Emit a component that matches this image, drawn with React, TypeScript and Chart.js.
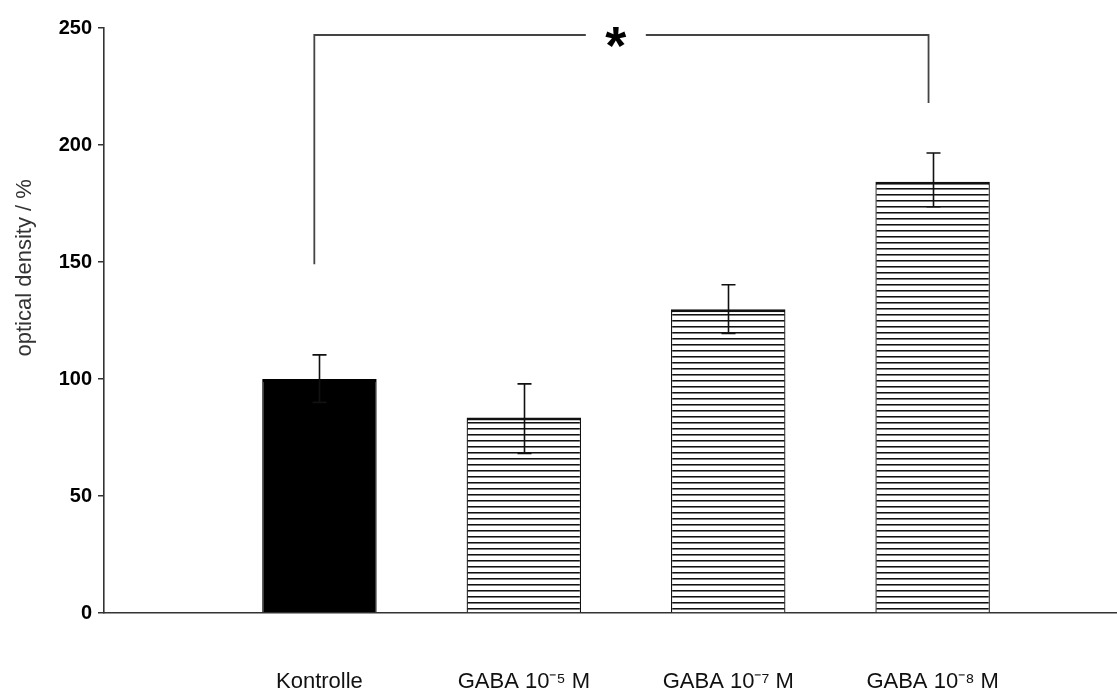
import React, { useEffect, useRef } from "react";
import { Chart, registerables } from "chart.js";

Chart.register(...registerables);

// ---- data ----
const categories = ["Kontrolle", "GABA 10⁻⁵ M", "GABA 10⁻⁷ M", "GABA 10⁻⁸ M"];
const positions = [0, 1, 2, 3];
const means = [100, 83.5, 129.8, 184.3];
const errUpper = [110.3, 97.9, 140.3, 196.6];
const errLower = [90, 68.2, 119.5, 173.6];
const yTicks = [0, 50, 100, 150, 200, 250];
const bracketX = [-0.025, 2.98];
const bracketBottom = [149, 218];
const bracketTop = 247;
const starX = 1.45;
const starLabel = "*";
const yTitle = "optical density / %";

const FONT = "'Liberation Sans', Arial, Helvetica, sans-serif";

function makeStripePattern(): CanvasPattern | string {
  const c = document.createElement("canvas");
  c.width = 8;
  c.height = 6;
  const g = c.getContext("2d");
  if (!g) return "#fff";
  g.fillStyle = "#ffffff";
  g.fillRect(0, 0, 8, 6);
  g.fillStyle = "#111111";
  g.fillRect(0, 2, 8, 1);
  g.fillStyle = "rgba(17,17,17,0.55)";
  g.fillRect(0, 3, 8, 1);
  const p = g.createPattern(c, "repeat");
  return p || "#fff";
}

const annotationPlugin = {
  id: "annotations",
  afterDatasetsDraw(chart: any) {
    const { ctx, scales } = chart;
    const xs = scales.x;
    const ys = scales.y;
    ctx.save();
    // error bars
    ctx.strokeStyle = "#111";
    ctx.lineWidth = 1.6;
    const cap = 7;
    positions.forEach((p, i) => {
      const x = Math.round(xs.getPixelForValue(p)) + 0.5;
      const yU = ys.getPixelForValue(errUpper[i]);
      const yL = ys.getPixelForValue(errLower[i]);
      ctx.beginPath();
      ctx.moveTo(x, yU);
      ctx.lineTo(x, yL);
      ctx.moveTo(x - cap, yU);
      ctx.lineTo(x + cap, yU);
      ctx.moveTo(x - cap, yL);
      ctx.lineTo(x + cap, yL);
      ctx.stroke();
    });
    // significance bracket
    const xl = xs.getPixelForValue(bracketX[0]);
    const xr = xs.getPixelForValue(bracketX[1]);
    const yt = ys.getPixelForValue(bracketTop);
    const xStar = xs.getPixelForValue(starX);
    const gap = 30;
    ctx.strokeStyle = "#444";
    ctx.lineWidth = 1.8;
    ctx.beginPath();
    ctx.moveTo(xl, ys.getPixelForValue(bracketBottom[0]));
    ctx.lineTo(xl, yt);
    ctx.lineTo(xStar - gap, yt);
    ctx.moveTo(xStar + gap, yt);
    ctx.lineTo(xr, yt);
    ctx.lineTo(xr, ys.getPixelForValue(bracketBottom[1]));
    ctx.stroke();
    ctx.fillStyle = "#000";
    ctx.font = `bold 54px ${FONT}`;
    ctx.textAlign = "center";
    ctx.textBaseline = "middle";
    ctx.fillText(starLabel, xStar, yt + 14);
    ctx.restore();
  },
  afterDraw(chart: any) {
    const { ctx, chartArea } = chart;
    ctx.save();
    ctx.translate(25, chartArea.top + chartArea.height * 0.41);
    ctx.rotate(-Math.PI / 2);
    ctx.fillStyle = "#333";
    ctx.font = `22px ${FONT}`;
    ctx.textAlign = "center";
    ctx.textBaseline = "middle";
    ctx.fillText(yTitle, 0, 0);
    ctx.restore();
  },
};

export default function App() {
  const ref = useRef<HTMLCanvasElement | null>(null);

  useEffect(() => {
    if (!ref.current) return;
    const stripe = makeStripePattern();
    const chart = new Chart(ref.current, {
      type: "bar",
      data: {
        datasets: [
          {
            data: positions.map((p, i) => ({ x: p, y: means[i] })),
            backgroundColor: positions.map((_, i) => (i === 0 ? "#000" : stripe)) as any,
            borderColor: positions.map((_, i) => (i === 0 ? "#000" : "#111")),
            borderWidth: { top: 3, left: 1.3, right: 1.3, bottom: 0 } as any,
            borderSkipped: false,
            barPercentage: 0.56,
            categoryPercentage: 1,
          },
        ],
      },
      options: {
        responsive: false,
        animation: false,
        layout: { padding: { top: 28, left: 0, right: 0, bottom: 0 } },
        plugins: { legend: { display: false }, tooltip: { enabled: false } },
        scales: {
          x: {
            type: "linear",
            offset: false,
            min: -1.054,
            max: 3.902,
            afterBuildTicks: (s: any) => {
              s.ticks = positions.map((v) => ({ value: v }));
            },
            afterFit: (s: any) => {
              s.height = 83;
            },
            ticks: {
              autoSkip: false,
              maxRotation: 0,
              padding: 56,
              color: "#111",
              font: { family: FONT, size: 22 },
              callback: (v: any) => categories[v as number] ?? "",
            },
            grid: { display: true, drawOnChartArea: false, drawTicks: false },
            border: { display: true, color: "#333", width: 1.6 },
          },
          y: {
            min: 0,
            max: 250,
            afterBuildTicks: (s: any) => {
              s.ticks = yTicks.map((v) => ({ value: v }));
            },
            afterFit: (s: any) => {
              s.width = 104;
            },
            ticks: {
              padding: 6,
              color: "#000",
              font: { family: FONT, size: 20, weight: "bold" },
            },
            grid: {
              display: true,
              drawOnChartArea: false,
              drawTicks: true,
              tickLength: 6,
              color: "#333",
              lineWidth: 1.5,
            },
            border: { display: true, color: "#333", width: 1.6 },
          },
        },
      },
      plugins: [annotationPlugin],
    });
    return () => chart.destroy();
  }, []);

  return (
    <div style={{ position: "absolute", left: 0, top: 0, width: 1117, height: 696, background: "#fff" }}>
      <canvas ref={ref} width={1117} height={696} style={{ display: "block" }} />
    </div>
  );
}
